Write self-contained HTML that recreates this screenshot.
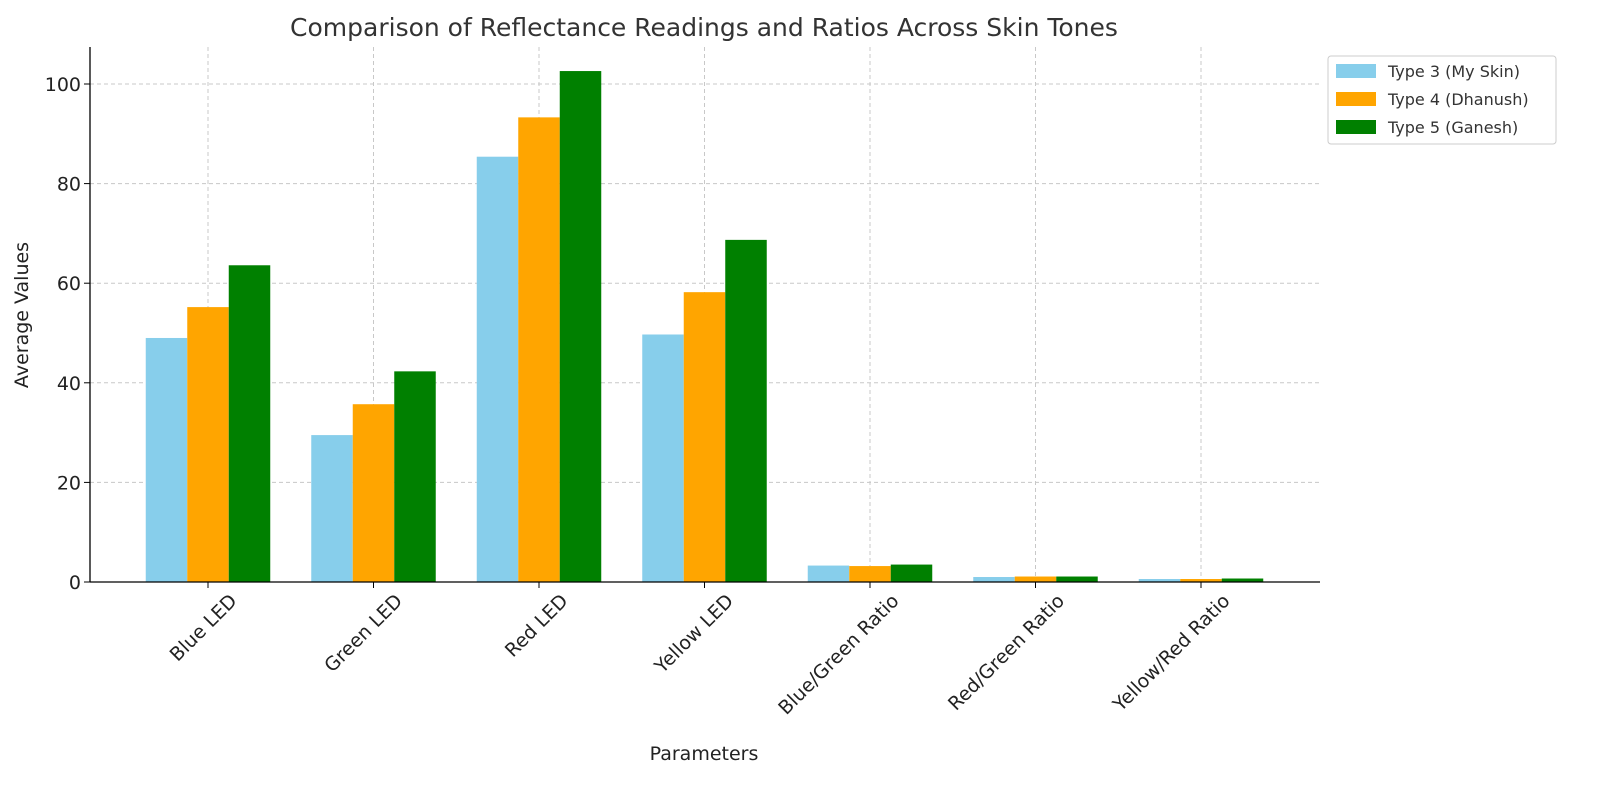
<!DOCTYPE html>
<html><head><meta charset="utf-8"><style>
body{margin:0;background:#fff;font-family:"Liberation Sans","DejaVu Sans",sans-serif;}
svg text{font-family:"DejaVu Sans","Liberation Sans",sans-serif;}
</style></head><body>
<svg id="chart" width="1600" height="794" xmlns="http://www.w3.org/2000/svg">
<text x="704" y="36" font-size="25" text-anchor="middle" fill="#333">Comparison of Reflectance Readings and Ratios Across Skin Tones</text>
<g id="grid"></g><g id="bars"></g><g id="axes"></g>
<text x="704" y="760" font-size="19" text-anchor="middle" fill="#222">Parameters</text>
<text transform="translate(28,315) rotate(-90)" font-size="19" text-anchor="middle" fill="#222">Average Values</text>
<g>
<rect x="1328" y="56" width="228" height="88" fill="#fff" stroke="#ccc" rx="3"/>
<g id="legend"></g>
</g>
</svg>
<script>
const categories=["Blue LED","Green LED","Red LED","Yellow LED","Blue/Green Ratio","Red/Green Ratio","Yellow/Red Ratio"];
const seriesNames=["Type 3 (My Skin)","Type 4 (Dhanush)","Type 5 (Ganesh)"];
const type3=[49.0,29.5,85.4,49.7,3.3,1.0,0.6];
const type4=[55.2,35.7,93.3,58.2,3.2,1.1,0.6];
const type5=[63.6,42.3,102.6,68.7,3.5,1.1,0.7];
const yTicks=[0,20,40,60,80,100];
const colors=["#87ceeb","#ffa500","#008000"];
const NS="http://www.w3.org/2000/svg";
const L=90,R=1320,T=47,B=582;
const y=v=>B-v*4.98;
const x=i=>208+i*165.5;
const bw=41.5;
function mk(tag,attrs,parent){const e=document.createElementNS(NS,tag);for(const k in attrs)e.setAttribute(k,attrs[k]);parent.appendChild(e);return e;}
const grid=document.getElementById('grid'),bars=document.getElementById('bars'),axes=document.getElementById('axes'),leg=document.getElementById('legend');
yTicks.forEach(t=>{
 const g=mk('line',{x1:L,x2:R,y1:y(t),y2:y(t),stroke:'#c8c8c8','stroke-dasharray':'4,3','stroke-width':1},grid);
 
 
 const tk=mk('line',{x1:L-6,x2:L,y1:y(t),y2:y(t),stroke:'#000'},axes);
 
 
 const tx=mk('text',{x:L-9,y:y(t)+7,'font-size':19,'text-anchor':'end',fill:'#222'},axes);
 tx.textContent=t;
 
 
});
categories.forEach((c,i)=>{
 const g=mk('line',{x1:x(i),x2:x(i),y1:T,y2:B,stroke:'#c8c8c8','stroke-dasharray':'4,3'},grid);
 
 
 const tk=mk('line',{x1:x(i),x2:x(i),y1:B,y2:B+6,stroke:'#000'},axes);
 
 
 const tx=mk('text',{transform:`translate(${x(i)+30},${B+20}) rotate(-45)`,'font-size':19,'text-anchor':'end',fill:'#222'},axes);
 tx.textContent=c;
 
 
});
[type3,type4,type5].forEach((s,si)=>{
 s.forEach((v,i)=>{
  const r=mk('rect',{x:x(i)+(si-1.5)*bw,y:y(v),width:bw,height:B-y(v),fill:colors[si]},bars);
  
  
 });
});
const ax1=mk('line',{x1:L,x2:L,y1:T,y2:B,stroke:'#000','stroke-width':1.3},axes);


const ax2=mk('line',{x1:L,x2:R,y1:B,y2:B,stroke:'#000','stroke-width':1.3},axes);


seriesNames.forEach((n,i)=>{
 const r=mk('rect',{x:1336,y:64+i*28,width:40,height:14,fill:colors[i]},leg);
 
 
 const t=mk('text',{x:1388,y:77+i*28,'font-size':16,fill:'#333'},leg);
 t.textContent=n;
 
 
});
</script>
</body></html>
